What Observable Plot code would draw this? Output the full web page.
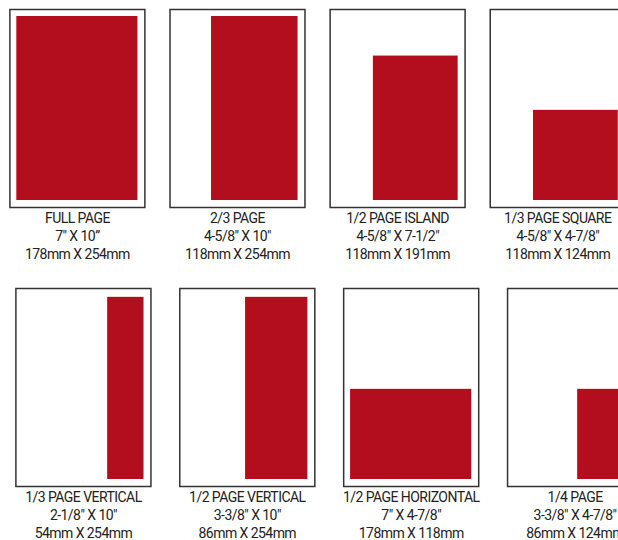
<!DOCTYPE html>
<html><head><meta charset="utf-8">
<script src="https://cdn.jsdelivr.net/npm/d3@7"></script>
<script src="https://cdn.jsdelivr.net/npm/@observablehq/plot@0.6"></script>
<style>
html,body{margin:0;padding:0;background:#fff;overflow:hidden;width:618px;height:540px;}
.row{display:block;width:618px;height:270px;overflow:hidden;}
.row svg{display:block;max-width:none !important;}
</style></head><body>
<div class="row" id="row1"></div>
<div class="row" id="row2"></div>
<script>
// Ad sizes shown in the reference (one entry per panel, reading order)
const names = ["FULL PAGE", "2/3 PAGE", "1/2 PAGE ISLAND", "1/3 PAGE SQUARE",
               "1/3 PAGE VERTICAL", "1/2 PAGE VERTICAL", "1/2 PAGE HORIZONTAL", "1/4 PAGE"];
const inchLabels = ['7" X 10\u201d', '4-5/8" X 10"', '4-5/8" X 7-1/2"', '4-5/8" X 4-7/8"',
                    '2-1/8" X 10"', '3-3/8" X 10"', '7" X 4-7/8"', '3-3/8" X 4-7/8"'];
const mmLabels = ["178mm X 254mm", "118mm X 254mm", "118mm X 191mm", "118mm X 124mm",
                  "54mm X 254mm", "86mm X 254mm", "178mm X 118mm", "86mm X 124mm"];
// Ad width and height in inches, as drawn in the picture
const adWidths  = [7, 5, 4.9, 4.9, 2.1, 3.6, 7, 3.35];
const adHeights = [10, 10, 7.85, 4.9, 9.9, 9.9, 4.9, 4.9];
const panelRow = [0, 0, 0, 0, 1, 1, 1, 1];
const panelCol = [0, 1, 2, 3, 0, 1, 2, 3];

// Page live area (inches)
const pageW = 7, pageH = 10;

const ads = names.map((name, i) => ({
  name, inch: inchLabels[i], mm: mmLabels[i],
  w: adWidths[i], h: adHeights[i], row: panelRow[i], col: panelCol[i]
}));

const red = "#b30e1d";
const ink = "#222";

function rowPlot(rowIndex, opts) {
  const data = ads.filter(d => d.row === rowIndex);
  return Plot.plot({
    width: opts.width,
    height: 270,
    marginLeft: opts.marginLeft,
    marginRight: opts.marginRight,
    marginTop: opts.marginTop,
    marginBottom: 270 - opts.marginTop - 198,
    style: "max-width:none;background:#fff;font-family:Roboto,'Open Sans',sans-serif;letter-spacing:-0.55px;",
    facet: {data, x: "col", marginTop: 0, marginRight: 0, marginBottom: 0, marginLeft: 0},
    fx: {axis: null, paddingInner: opts.paddingInner, paddingOuter: 0, round: false, label: null},
    x: {axis: null, domain: [-0.4, pageW + 0.4]},
    y: {axis: null, domain: [-0.38, pageH + 0.38]},
    marks: [
      Plot.frame({stroke: "#333", strokeWidth: 1.5, fill: "#fff"}),
      Plot.rect(data, {
        x1: d => pageW - d.w, x2: pageW,
        y1: 0, y2: d => d.h,
        fill: red
      }),
      Plot.text(data, {
        text: d => `${d.name}\n${d.inch}\n${d.mm}`,
        frameAnchor: "bottom",
        lineAnchor: "top",
        dy: 3,
        lineHeight: 1.28,
        fontSize: 14,
        fill: ink
      })
    ]
  });
}

document.getElementById("row1").append(
  rowPlot(0, {width: 640, marginLeft: 9.4, marginRight: 15.3, marginTop: 9, paddingInner: 0.157})
);
document.getElementById("row2").append(
  rowPlot(1, {width: 650, marginLeft: 15.4, marginRight: 7.9, marginTop: 18, paddingInner: 0.176})
);
</script>
</body></html>
